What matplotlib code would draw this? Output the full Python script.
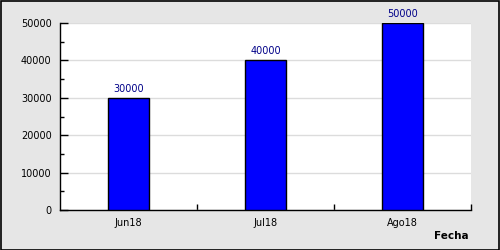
import matplotlib

matplotlib.use('Agg')
import matplotlib.pyplot as plt
from matplotlib.ticker import MultipleLocator

MONTHS = ['Jun18', 'Jul18', 'Ago18']
VALUES = [30000, 40000, 50000]
Y_TICKS = [0, 10000, 20000, 30000, 40000, 50000]

BG = '#e6e6e6'
W, H = 500, 250

fig = plt.figure(figsize=(W / 100, H / 100), dpi=100, facecolor=BG)
ax = fig.add_axes([60 / W, 1 - 210 / H, (471 - 60) / W, (210 - 23) / H])
ax.set_facecolor('white')

x = list(range(len(MONTHS)))
ax.bar(x, VALUES, width=0.3, color='#0000ff', edgecolor='black',
       linewidth=1.0, zorder=3)
for xi, v in zip(x, VALUES):
    ax.annotate(f'{v}', (xi, v), xytext=(0, 3), textcoords='offset points',
                ha='center', va='bottom', fontsize=7, color='#000088')

ax.set_xlim(-0.5, len(MONTHS) - 0.5)
ax.set_ylim(0, 50000)
ax.set_yticks(Y_TICKS)
ax.set_yticklabels([str(t) for t in Y_TICKS])
ax.yaxis.set_minor_locator(MultipleLocator(5000))
ax.yaxis.grid(True, color='#dcdcdc', linewidth=1.0, zorder=0)

# category labels under centres, ticks on category boundaries
ax.set_xticks([i + 0.5 for i in x])
ax.set_xticklabels([''] * len(MONTHS))
ax.set_xticks(x, minor=True)
ax.set_xticklabels(MONTHS, minor=True)
ax.tick_params(axis='x', which='major', direction='in', length=4, width=1)
ax.tick_params(axis='x', which='minor', length=0, pad=6, labelsize=7)
ax.tick_params(axis='y', which='major', direction='in', length=6, width=1,
               pad=6, labelsize=7)
ax.tick_params(axis='y', which='minor', direction='in', length=3, width=1)

for s in ('top', 'right'):
    ax.spines[s].set_visible(False)
for s in ('left', 'bottom'):
    ax.spines[s].set_linewidth(1.0)

fig.text(469 / W, 1 - 236 / H, 'Fecha', ha='right', va='center',
         fontsize=7.5, fontweight='bold')

# outer border
fig.patches.append(plt.Rectangle((0.001, 0.002), 0.997, 0.996,
                                 transform=fig.transFigure, fill=False,
                                 edgecolor='black', linewidth=1.2))

fig.savefig('out.png', dpi=100, facecolor=BG)
